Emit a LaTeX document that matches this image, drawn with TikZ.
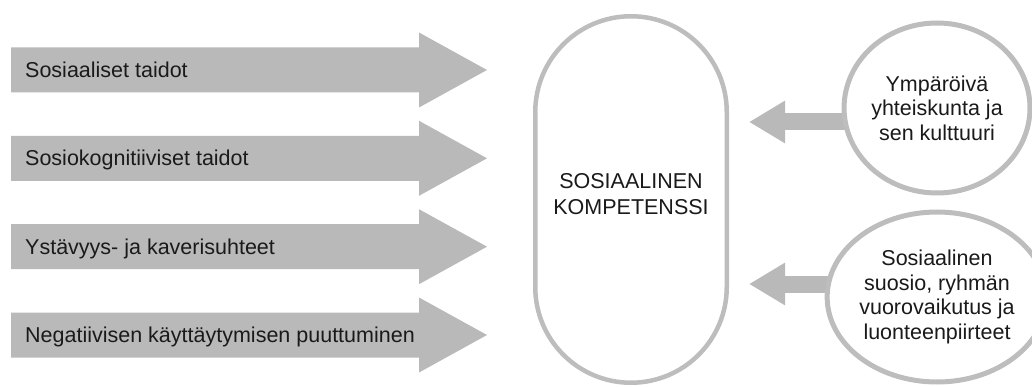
\documentclass[tikz,border=0pt]{standalone}
\usepackage{fontspec}
\setmainfont{Liberation Sans}
\usetikzlibrary{shapes.geometric,arrows.meta,backgrounds}
\definecolor{arrowgray}{HTML}{B9B9B9}
\definecolor{linegray}{HTML}{BDBDBD}
\definecolor{txt}{HTML}{1A1A1A}
\tikzset{
  lbl/.style={inner sep=0pt, text=txt, font=\fontsize{21.5}{25}\selectfont},
  stadium/.style={draw=linegray, line width=4.5pt, fill=white, rounded corners=95.75pt,
    minimum width=191.5pt, minimum height=366.5pt, align=center, inner sep=0pt,
    text=txt, font=\fontsize{21.5}{26}\selectfont},
  bubble/.style={ellipse, draw=linegray, line width=5pt, fill=white,
    minimum width=181pt, minimum height=170pt, align=center, inner sep=0pt,
    text=txt, font=\fontsize{21.5}{24.5}\selectfont},
  smallarrow/.style={draw=arrowgray, line width=17pt,
    -{Triangle[width=40pt,length=36pt]}}
}
\newcommand\bigarrow[3]{%
  \fill[arrowgray] (11,#1-22.5) -- (419,#1-22.5) -- (419,#1-37.5) -- (487,#1)
    -- (419,#1+37.5) -- (419,#1+22.5) -- (11,#1+22.5) -- cycle;
  \node[lbl, anchor=base west] (#2) at (25,#1+7.5) {#3};}
\begin{document}
\begin{tikzpicture}[x=1pt,y=-1pt]
\useasboundingbox (0,0) rectangle (1032,387);
\bigarrow{70}{a1}{Sosiaaliset taidot}
\bigarrow{158.3}{a2}{Sosiokognitiiviset taidot}
\bigarrow{246.7}{a3}{Ystävyys- ja kaverisuhteet}
\bigarrow{335}{a4}{Negatiivisen käyttäytymisen puuttuminen}

\node[stadium, text depth=12pt] (comp) at (631,199.5) {SOSIAALINEN\\KOMPETENSSI};

\node[bubble] (c1) at (937,108) {Ympäröivä\\yhteiskunta ja\\sen kulttuuri};
\node[bubble] (c2) at (937,297) {Sosiaalinen\\suosio, ryhmän\\vuorovaikutus ja\\luonteenpiirteet};

\coordinate (t1) at (749,122);
\coordinate (t2) at (749,284);
\begin{scope}[on background layer]
\draw[smallarrow] (c1.center |- t1) -- (t1);
\draw[smallarrow] (c2.center |- t2) -- (t2);
\end{scope}
\end{tikzpicture}
\end{document}
